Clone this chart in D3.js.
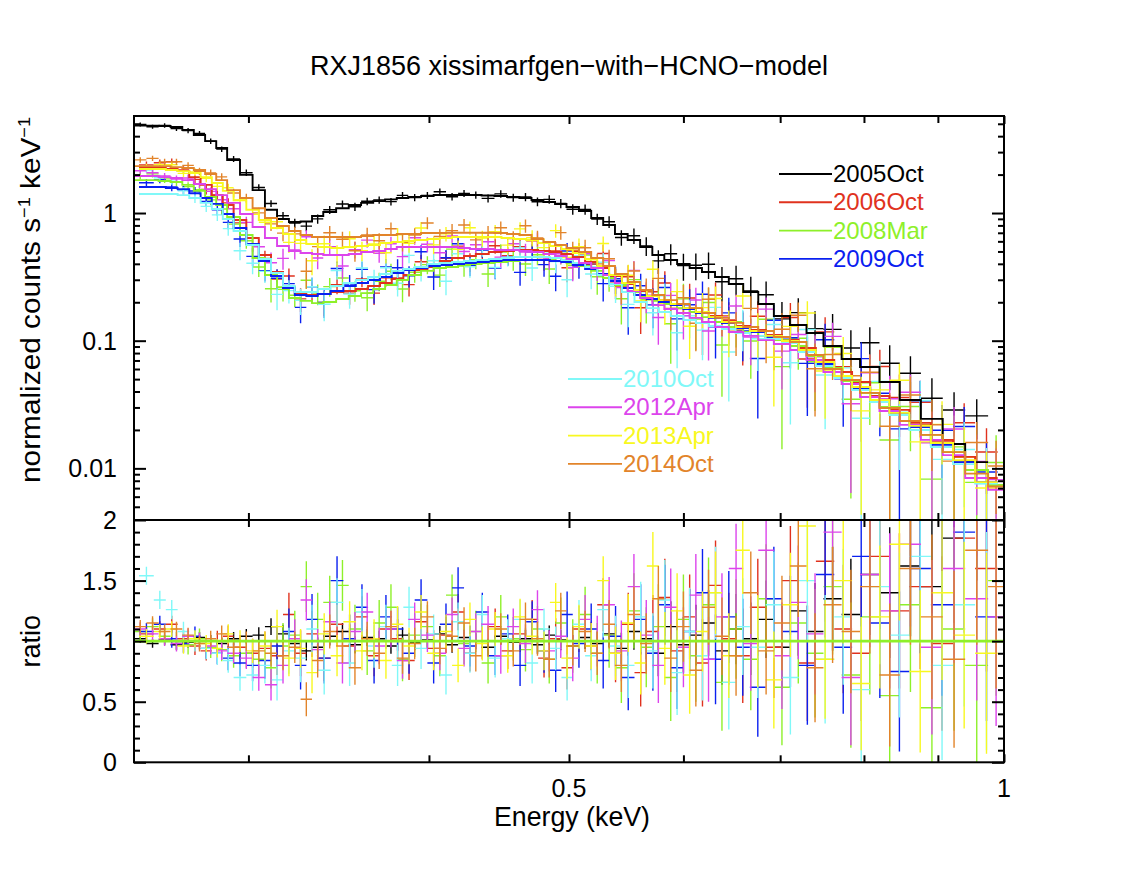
<!DOCTYPE html>
<html><head><meta charset="utf-8">
<script src="https://cdn.jsdelivr.net/npm/d3@7"></script>
<style>
body{margin:0;background:#fff}
text{font-family:"Liberation Sans",Arial,Helvetica,sans-serif;fill:#000}
</style>
</head><body>
<svg id="chart" width="1138" height="879"></svg>
<script>
// ---------------- DATA ----------------
const chartTitle = "RXJ1856 xissimarfgen\u2212with\u2212HCNO\u2212model";
const xLabel = "Energy (keV)";
const seriesNames = ["2005Oct","2006Oct","2008Mar","2009Oct","2010Oct","2012Apr","2013Apr","2014Oct"];
const seriesColors = ["#000000","#e0321e","#8ef02a","#0a20f0","#80f8f8","#dc44ec","#f8f820","#e2842a"];
const xMajorTicks = [0.5, 1];
const xMinorTicks = [0.3, 0.4, 0.6, 0.7, 0.8, 0.9];
const xTickLabels = ["0.5", "1"];
const yTopMajorTicks = [0.01, 0.1, 1];
const yTopTickLabels = ["0.01", "0.1", "1"];
const yTopMinorTicks = [0.005,0.006,0.007,0.008,0.009,0.02,0.03,0.04,0.05,0.06,0.07,0.08,0.09,0.2,0.3,0.4,0.5,0.6,0.7,0.8,0.9,2,3,4,5];
const yBotMajorTicks = [0, 0.5, 1, 1.5, 2];
const yBotTickLabels = ["0", "0.5", "1", "1.5", "2"];
const yBotMinorTicks = [0.1,0.2,0.3,0.4,0.6,0.7,0.8,0.9,1.1,1.2,1.3,1.4,1.6,1.7,1.8,1.9];

// energy bin edges (keV)
const edgesA = [0.250,0.255,0.260,0.265,0.270,0.275,0.280,0.285,0.290,0.296,0.302,0.308,0.314,0.320,0.326,0.332,0.338,0.345,0.352,0.359,0.366,0.373,0.380,0.387,0.395,0.403,0.411,0.419,0.427,0.435,0.444,0.453,0.462,0.471,0.480,0.489,0.498,0.508,0.518,0.528,0.538,0.549,0.560,0.571,0.582,0.594,0.606,0.618,0.631,0.645,0.660,0.676,0.693,0.711,0.730,0.750,0.772,0.795,0.820,0.847,0.876,0.907,0.940,0.975,1.000];
const edgesB = [0.252,0.258,0.263,0.268,0.273,0.278,0.283,0.288,0.293,0.299,0.305,0.311,0.317,0.323,0.329,0.335,0.342,0.349,0.356,0.363,0.370,0.377,0.384,0.391,0.399,0.407,0.415,0.423,0.431,0.440,0.449,0.458,0.467,0.476,0.485,0.494,0.503,0.513,0.523,0.533,0.544,0.555,0.566,0.577,0.588,0.600,0.612,0.625,0.638,0.652,0.667,0.684,0.702,0.721,0.741,0.763,0.785,0.808,0.833,0.860,0.890,0.922,0.955,0.990];

// model (normalized counts s^-1 keV^-1) per bin
const model2005Oct = [4.84,4.84,4.80,4.72,4.47,4.08,3.66,3.23,2.60,1.99,1.51,1.06,0.898,0.850,0.858,0.947,1.02,1.09,1.155,1.20,1.24,1.28,1.31,1.335,1.36,1.384,1.384,1.384,1.384,1.371,1.359,1.335,1.311,1.264,1.219,1.176,1.114,1.037,0.914,0.805,0.685,0.615,0.542,0.469,0.4285,0.399,0.371,0.345,0.315,0.278,0.2405,0.194,0.156,0.1327,0.115,0.0909,0.0719,0.0622,0.0475,0.0343,0.0244,0.0155,0.0112];
const model2006Oct = [2.25,2.25,2.21,2.13,1.91,1.66,1.38,1.155,0.882,0.637,0.469,0.345,0.263,0.236,0.228,0.232,0.2405,0.245,0.254,0.268,0.283,0.304,0.327,0.358,0.399,0.421,0.444,0.461,0.478,0.495,0.504,0.513,0.513,0.504,0.495,0.478,0.452,0.413,0.371,0.321,0.278,0.245,0.224,0.208,0.194,0.180,0.168,0.156,0.1426,0.1303,0.1213,0.1108,0.1013,0.0877,0.0706,0.0569,0.0475,0.0369,0.0287,0.0227,0.0167,0.0123,0.0084];
const model2008Mar = [1.81,1.81,1.78,1.75,1.66,1.49,1.335,1.155,0.93,0.673,0.444,0.327,0.263,0.216,0.205,0.197,0.201,0.212,0.224,0.236,0.254,0.273,0.299,0.327,0.352,0.371,0.378,0.392,0.399,0.406,0.413,0.421,0.4285,0.4285,0.4285,0.421,0.406,0.3845,0.352,0.31,0.273,0.2405,0.22,0.205,0.194,0.180,0.168,0.153,0.14,0.128,0.117,0.109,0.101,0.0909,0.0759,0.0611,0.0483,0.039,0.0303,0.0235,0.0183,0.0134,0.0097,0.0074];
const model2009Oct = [1.60,1.60,1.57,1.54,1.43,1.31,1.18,0.982,0.763,0.572,0.421,0.321,0.259,0.228,0.224,0.232,0.245,0.268,0.283,0.299,0.315,0.339,0.358,0.371,0.3845,0.392,0.399,0.406,0.413,0.421,0.4285,0.4285,0.4285,0.4285,0.421,0.413,0.392,0.364,0.333,0.2935,0.259,0.228,0.212,0.201,0.190,0.177,0.165,0.151,0.1376,0.1257,0.117,0.107,0.0977,0.0831,0.0657,0.0529,0.0426,0.0337,0.0272,0.0211,0.0153,0.0112,0.0078];
const model2010Oct = [1.41,1.41,1.41,1.38,1.31,1.20,1.075,0.898,0.723,0.562,0.436,0.339,0.268,0.2405,0.2405,0.254,0.268,0.283,0.299,0.315,0.333,0.352,0.364,0.378,0.399,0.406,0.413,0.421,0.4285,0.436,0.444,0.452,0.452,0.452,0.444,0.4285,0.406,0.378,0.327,0.278,0.2405,0.201,0.180,0.168,0.156,0.1453,0.1376,0.1303,0.1235,0.115,0.109,0.1031,0.096,0.0816,0.0634,0.051,0.0411,0.0331,0.0262,0.020,0.0147,0.0108,0.0076];
const model2012Apr = [1.95,1.95,1.91,1.88,1.81,1.69,1.54,1.38,1.20,0.982,0.777,0.637,0.552,0.504,0.486,0.478,0.469,0.469,0.478,0.495,0.504,0.522,0.542,0.542,0.542,0.542,0.542,0.532,0.522,0.522,0.513,0.513,0.504,0.495,0.478,0.461,0.436,0.406,0.371,0.327,0.283,0.245,0.216,0.190,0.177,0.165,0.151,0.14,0.128,0.117,0.109,0.101,0.0942,0.0846,0.0706,0.0569,0.0458,0.0362,0.0281,0.0219,0.0167,0.0127,0.0084,0.0068];
const model2013Apr = [2.21,2.21,2.17,2.13,2.06,1.91,1.72,1.49,1.26,1.06,0.882,0.763,0.685,0.615,0.572,0.542,0.532,0.542,0.552,0.562,0.582,0.593,0.604,0.615,0.626,0.637,0.649,0.649,0.649,0.649,0.637,0.626,0.615,0.582,0.552,0.522,0.486,0.436,0.3845,0.327,0.283,0.2495,0.224,0.208,0.194,0.180,0.168,0.153,0.14,0.128,0.119,0.109,0.0995,0.0846,0.0681,0.0529,0.0434,0.0343,0.0272,0.0215,0.0158,0.0116,0.0078];
const model2014Oct = [2.33,2.33,2.33,2.29,2.25,2.17,2.02,1.81,1.51,1.31,1.09,0.914,0.791,0.723,0.673,0.649,0.649,0.649,0.649,0.661,0.673,0.673,0.685,0.685,0.697,0.697,0.70,0.70,0.70,0.70,0.697,0.685,0.673,0.626,0.593,0.562,0.532,0.495,0.444,0.3845,0.333,0.288,0.2495,0.228,0.208,0.194,0.180,0.165,0.151,0.138,0.128,0.119,0.107,0.0977,0.0773,0.060,0.0492,0.039,0.0297,0.0235,0.0183,0.0134,0.0091,0.0072];

// data / model ratio per bin
const ratio2005Oct = [1.02,0.98,1.01,0.97,0.99,1.03,1.00,0.98,1.02,1.04,1.05,1.12,1.06,0.98,0.92,0.95,1.04,1.08,0.97,1.03,1.02,0.96,1.05,0.99,1.01,1.06,0.97,1.03,1.00,0.95,1.04,0.99,1.02,0.97,1.05,1.01,0.96,1.03,0.98,1.06,0.94,1.08,1.02,0.90,1.12,0.97,1.05,1.15,0.92,1.10,1.02,1.18,0.95,1.25,1.08,1.35,1.22,1.55,1.40,1.62,1.45,1.85,2.3];
const ratio2006Oct = [1.06,1.10,1.14,1.02,0.96,0.92,1.00,1.04,0.95,0.90,0.94,0.88,1.22,0.90,1.06,0.86,1.14,0.96,1.20,0.88,1.10,1.02,0.84,1.16,0.94,1.05,1.24,0.90,1.00,1.12,0.92,1.06,1.18,0.86,1.02,0.78,1.10,0.96,1.30,0.90,1.14,0.74,1.08,1.36,0.92,1.20,0.82,1.46,1.02,0.88,1.28,0.95,1.50,0.82,1.66,1.10,0.90,1.70,1.25,1.45,0.98,1.85,1.60];
const ratio2008Mar = [1.08,1.12,1.04,1.00,0.97,1.02,0.95,0.93,0.88,0.90,0.85,0.78,0.96,1.05,1.45,1.18,1.32,1.46,1.10,0.92,1.15,1.28,0.85,1.05,1.12,0.88,1.38,0.98,1.08,0.82,1.20,1.02,0.93,1.10,0.85,1.15,0.96,1.22,0.90,1.05,0.78,1.25,0.95,1.12,0.70,1.18,0.88,1.30,0.66,1.10,0.85,1.35,0.62,1.15,0.90,1.45,0.72,1.20,0.55,1.30,0.45,1.10,0.80,1.50];
const ratio2009Oct = [1.08,1.14,1.02,0.98,1.04,0.94,0.90,0.86,0.82,0.80,0.84,0.96,1.08,0.80,1.18,0.86,1.50,1.02,1.28,0.84,1.20,1.10,0.90,1.34,0.82,1.14,1.44,0.96,1.24,0.88,1.06,0.80,1.16,0.92,0.76,1.22,0.98,1.10,0.84,1.04,0.70,1.18,0.90,1.30,0.78,1.08,1.40,0.85,1.20,0.95,0.62,1.35,1.08,0.80,1.55,0.95,1.70,1.15,0.75,1.60,1.30,1.90,1.20];
const ratio2010Oct = [1.54,1.34,1.26,1.08,1.00,0.94,0.90,0.84,0.70,0.72,0.80,0.68,0.92,0.86,1.10,0.76,1.32,0.82,1.24,0.96,1.12,0.80,1.28,0.94,1.06,0.72,1.16,0.90,1.22,0.86,1.02,1.18,0.82,1.10,0.94,0.70,1.14,0.88,1.26,0.96,0.80,1.20,0.92,1.34,0.74,1.08,0.88,1.40,0.66,1.12,0.95,1.30,0.70,1.50,0.85,1.20,0.60,1.45,1.05,1.70,0.80,1.30,1.00];
const ratio2012Apr = [1.10,1.06,1.02,0.98,1.04,1.00,0.96,0.92,0.90,0.86,0.70,0.64,0.80,1.02,1.34,0.93,1.16,0.82,1.08,1.24,0.96,1.10,0.84,1.18,1.05,0.90,1.22,0.94,1.08,1.14,0.88,1.12,0.98,1.26,0.92,1.04,0.86,1.18,1.00,1.30,0.92,1.45,1.05,0.80,1.28,0.95,1.38,0.85,1.20,1.60,0.98,1.75,0.88,1.32,1.06,1.90,0.70,1.55,1.25,1.80,0.95,1.60,1.35,1.20];
const ratio2013Apr = [1.04,1.08,1.10,0.96,1.02,0.98,0.94,1.06,1.00,0.92,0.96,1.12,0.86,0.94,0.74,1.06,0.88,1.16,0.92,1.02,0.84,1.14,0.96,1.24,0.90,1.08,0.80,1.18,0.98,1.10,0.88,1.20,1.04,0.92,1.32,0.86,1.12,0.96,1.50,0.90,1.15,0.82,1.62,0.94,1.25,0.72,1.08,1.40,0.88,1.75,1.00,0.68,1.30,1.95,0.85,1.50,0.65,1.20,1.80,0.75,1.40,1.05,0.90];
const ratio2014Oct = [1.12,1.15,1.08,1.10,1.05,0.98,1.02,1.06,0.95,1.00,0.92,0.90,0.88,0.95,0.52,0.84,1.08,0.96,0.78,1.02,0.90,1.12,0.86,0.98,1.20,0.94,1.04,1.15,0.88,1.00,1.10,0.92,1.18,1.02,0.85,1.25,0.96,1.08,0.90,1.14,0.80,1.22,0.98,1.35,0.86,1.12,0.76,1.28,1.04,0.88,1.40,0.92,1.15,1.62,0.78,1.30,1.08,1.45,0.72,1.60,1.20,0.85,1.75,1.45];

// 1-sigma error on the ratio per bin
const err2005Oct = [0.035,0.035,0.04,0.04,0.045,0.045,0.05,0.05,0.055,0.06,0.065,0.07,0.075,0.08,0.08,0.08,0.075,0.07,0.07,0.07,0.065,0.065,0.065,0.065,0.065,0.065,0.065,0.065,0.065,0.07,0.07,0.07,0.075,0.075,0.08,0.085,0.09,0.095,0.1,0.11,0.13,0.15,0.17,0.19,0.21,0.23,0.25,0.27,0.28,0.29,0.3,0.32,0.34,0.37,0.4,0.43,0.46,0.5,0.54,0.58,0.63,0.7,0.8];
const err2006Oct = [0.065,0.065,0.07,0.07,0.075,0.08,0.085,0.09,0.1,0.12,0.14,0.16,0.18,0.19,0.19,0.19,0.18,0.18,0.17,0.17,0.16,0.16,0.16,0.15,0.15,0.15,0.15,0.15,0.15,0.15,0.15,0.15,0.16,0.16,0.17,0.18,0.19,0.2,0.22,0.24,0.26,0.28,0.3,0.32,0.34,0.35,0.36,0.37,0.38,0.39,0.4,0.42,0.45,0.48,0.5,0.53,0.56,0.6,0.64,0.68,0.72,0.78,0.85];
const err2008Mar = [0.07,0.07,0.075,0.075,0.08,0.085,0.09,0.095,0.1,0.12,0.14,0.17,0.19,0.2,0.21,0.22,0.22,0.21,0.2,0.2,0.19,0.19,0.18,0.18,0.18,0.17,0.17,0.17,0.17,0.17,0.18,0.18,0.18,0.19,0.2,0.21,0.22,0.23,0.25,0.27,0.29,0.31,0.33,0.35,0.36,0.37,0.38,0.39,0.4,0.41,0.42,0.45,0.48,0.5,0.53,0.56,0.6,0.64,0.68,0.72,0.78,0.84,0.9,0.95];
const err2009Oct = [0.07,0.07,0.075,0.075,0.08,0.085,0.09,0.1,0.11,0.13,0.15,0.17,0.19,0.2,0.21,0.21,0.2,0.2,0.19,0.19,0.18,0.18,0.17,0.17,0.17,0.17,0.17,0.17,0.16,0.16,0.16,0.17,0.17,0.18,0.18,0.19,0.2,0.21,0.23,0.25,0.27,0.29,0.31,0.33,0.34,0.35,0.36,0.37,0.38,0.4,0.41,0.43,0.46,0.49,0.52,0.55,0.58,0.62,0.66,0.7,0.75,0.8,0.86];
const err2010Oct = [0.075,0.075,0.08,0.08,0.085,0.09,0.095,0.1,0.11,0.13,0.15,0.17,0.19,0.2,0.2,0.2,0.2,0.19,0.19,0.18,0.18,0.17,0.17,0.17,0.16,0.16,0.16,0.16,0.16,0.16,0.16,0.16,0.17,0.17,0.18,0.19,0.2,0.21,0.23,0.25,0.27,0.29,0.31,0.33,0.35,0.36,0.37,0.38,0.39,0.4,0.42,0.44,0.47,0.5,0.53,0.56,0.6,0.64,0.68,0.72,0.78,0.84,0.9];
const err2012Apr = [0.06,0.06,0.06,0.065,0.065,0.07,0.07,0.075,0.08,0.09,0.11,0.13,0.15,0.16,0.17,0.17,0.17,0.17,0.16,0.16,0.15,0.15,0.15,0.14,0.14,0.14,0.14,0.15,0.15,0.15,0.15,0.15,0.16,0.16,0.17,0.18,0.19,0.2,0.21,0.23,0.25,0.27,0.29,0.31,0.32,0.33,0.34,0.35,0.36,0.37,0.39,0.41,0.44,0.47,0.5,0.53,0.56,0.6,0.64,0.68,0.72,0.78,0.84,0.9];
const err2013Apr = [0.06,0.06,0.065,0.065,0.07,0.07,0.075,0.08,0.09,0.1,0.12,0.14,0.15,0.16,0.17,0.17,0.17,0.17,0.16,0.16,0.15,0.15,0.15,0.14,0.14,0.14,0.14,0.14,0.14,0.14,0.14,0.15,0.15,0.16,0.16,0.17,0.18,0.19,0.2,0.22,0.24,0.26,0.28,0.3,0.31,0.32,0.33,0.34,0.35,0.36,0.38,0.4,0.43,0.46,0.49,0.52,0.55,0.59,0.63,0.67,0.72,0.77,0.83];
const err2014Oct = [0.055,0.055,0.06,0.06,0.06,0.065,0.065,0.07,0.075,0.08,0.09,0.11,0.12,0.13,0.14,0.14,0.14,0.14,0.14,0.14,0.13,0.13,0.13,0.13,0.13,0.13,0.13,0.13,0.13,0.13,0.13,0.13,0.14,0.14,0.15,0.15,0.16,0.17,0.18,0.2,0.22,0.23,0.25,0.27,0.28,0.29,0.3,0.31,0.32,0.33,0.34,0.36,0.39,0.42,0.45,0.48,0.51,0.55,0.59,0.63,0.68,0.73,0.78,0.84];

const seriesEdges  = [edgesA, edgesB, edgesA, edgesB, edgesB, edgesA, edgesB, edgesA];
const seriesModels = [model2005Oct, model2006Oct, model2008Mar, model2009Oct, model2010Oct, model2012Apr, model2013Apr, model2014Oct];
const seriesRatios = [ratio2005Oct, ratio2006Oct, ratio2008Mar, ratio2009Oct, ratio2010Oct, ratio2012Apr, ratio2013Apr, ratio2014Oct];
const seriesErrors = [err2005Oct, err2006Oct, err2008Mar, err2009Oct, err2010Oct, err2012Apr, err2013Apr, err2014Oct];

// ---------------- LAYOUT ----------------
const L = 134, R = 1004, T = 116, MID = 520, B = 762.3;
const svg = d3.select("#chart");
const x = d3.scaleLog().domain([0.25, 1]).range([L, R]);
const yTop = d3.scaleLog().domain([0.00394, 5.754]).range([MID, T]);
const yBot = d3.scaleLinear().domain([0, 2]).range([B, MID]);

const defs = svg.append("defs");
defs.append("clipPath").attr("id","clipTop").append("rect").attr("x",L).attr("y",T).attr("width",R-L).attr("height",MID-T);
defs.append("clipPath").attr("id","clipBot").append("rect").attr("x",L).attr("y",MID).attr("width",R-L).attr("height",B-MID);

const datasets = seriesNames.map((name, k) => {
  const edges = seriesEdges[k];
  const bins = seriesModels[k].map((m, i) => {
    const r = seriesRatios[k][i], e = seriesErrors[k][i];
    return {lo: edges[i], hi: edges[i+1], mid: (edges[i]+edges[i+1])/2, m, r, e, d: r*m, de: e*m};
  });
  return {name, color: seriesColors[k], bins};
});

const gTop = svg.append("g").attr("clip-path","url(#clipTop)");
const gBot = svg.append("g").attr("clip-path","url(#clipBot)");
const yMinTop = yTop.domain()[0];

// data crosses, top panel
datasets.forEach(ds => {
  let p = "";
  ds.bins.forEach(b => {
    const yc = yTop(b.d);
    const lo = b.d - b.de > yMinTop ? yTop(b.d - b.de) : MID + 5;
    const hi = yTop(b.d + b.de);
    p += `M${x(b.lo)},${yc}H${x(b.hi)}M${x(b.mid)},${lo}V${hi}`;
  });
  gTop.append("path").attr("d", p).attr("fill","none").attr("stroke", ds.color).attr("stroke-width", 1.4);
});
// model step lines, top panel
const stepLine = d3.line().x(d => x(d[0])).y(d => yTop(d[1]));
datasets.forEach(ds => {
  const pts = [];
  ds.bins.forEach(b => { pts.push([b.lo, b.m]); pts.push([b.hi, b.m]); });
  gTop.append("path").attr("d", stepLine(pts)).attr("fill","none").attr("stroke", ds.color).attr("stroke-width", 1.9);
});

// ratio crosses, bottom panel
datasets.forEach(ds => {
  let p = "";
  ds.bins.forEach(b => {
    p += `M${x(b.lo)},${yBot(b.r)}H${x(b.hi)}M${x(b.mid)},${yBot(Math.max(b.r - b.e, -0.1))}V${yBot(Math.min(b.r + b.e, 2.1))}`;
  });
  gBot.append("path").attr("d", p).attr("fill","none").attr("stroke", ds.color).attr("stroke-width", 1.4);
});
gBot.append("line").attr("x1", x(0.25)).attr("x2", x(1)).attr("y1", yBot(1)).attr("y2", yBot(1))
  .attr("stroke", seriesColors[2]).attr("stroke-width", 2.6);

// ---------------- AXES ----------------
function styleAxis(g){ g.select(".domain").remove(); g.selectAll("line").attr("stroke","#000").attr("stroke-width",2); g.selectAll("text").remove(); }
function addAxis(axisFn, scale, vals, size, tx, ty){
  svg.append("g").attr("transform",`translate(${tx},${ty})`)
    .call(axisFn(scale).tickValues(vals).tickSize(-size).tickFormat(""))
    .call(styleAxis);
}
[[d3.axisTop,T],[d3.axisBottom,MID],[d3.axisTop,MID],[d3.axisBottom,B]].forEach(([fn,ty]) => {
  addAxis(fn, x, xMajorTicks, 8, 0, ty);
  addAxis(fn, x, xMinorTicks, 7, 0, ty);
});
addAxis(d3.axisLeft, yTop, yTopMajorTicks, 12, L, 0);
addAxis(d3.axisLeft, yTop, yTopMinorTicks, 6, L, 0);
addAxis(d3.axisRight, yTop, yTopMajorTicks, 12, R, 0);
addAxis(d3.axisRight, yTop, yTopMinorTicks, 6, R, 0);
addAxis(d3.axisLeft, yBot, yBotMajorTicks, 12, L, 0);
addAxis(d3.axisLeft, yBot, yBotMinorTicks, 6, L, 0);
addAxis(d3.axisRight, yBot, yBotMajorTicks, 12, R, 0);
addAxis(d3.axisRight, yBot, yBotMinorTicks, 6, R, 0);

svg.append("rect").attr("x",L).attr("y",T).attr("width",R-L).attr("height",B-T).attr("fill","none").attr("stroke","#000").attr("stroke-width",2);
svg.append("line").attr("x1",L).attr("x2",R).attr("y1",MID).attr("y2",MID).attr("stroke","#000").attr("stroke-width",2);

// tick labels
xMajorTicks.forEach((v,i) => svg.append("text").attr("x", x(v)).attr("y", 797).attr("text-anchor","middle").style("font-size","25px").text(xTickLabels[i]));
yTopMajorTicks.forEach((v,i) => svg.append("text").attr("x", 117).attr("y", yTop(v)).attr("dy","0.36em").attr("text-anchor","end").style("font-size","25px").text(yTopTickLabels[i]));
yBotMajorTicks.forEach((v,i) => svg.append("text").attr("x", 117).attr("y", yBot(v)).attr("dy","0.36em").attr("text-anchor","end").style("font-size","25px").text(yBotTickLabels[i]));

// titles
svg.append("text").attr("x", 569).attr("y", 75).attr("text-anchor","middle").style("font-size","27px")
  .attr("textLength", 518).attr("lengthAdjust","spacingAndGlyphs").text(chartTitle);
svg.append("text").attr("x", 572).attr("y", 826).attr("text-anchor","middle").style("font-size","28px")
  .attr("textLength", 156).attr("lengthAdjust","spacingAndGlyphs").text(xLabel);
const yl = svg.append("text").attr("transform","translate(40,300) rotate(-90)").attr("text-anchor","middle").style("font-size","28px")
  .attr("textLength", 366).attr("lengthAdjust","spacingAndGlyphs");
yl.append("tspan").text("normalized counts s");
yl.append("tspan").attr("dy",-10).style("font-size","17px").text("\u22121");
yl.append("tspan").attr("dy",10).text(" keV");
yl.append("tspan").attr("dy",-10).style("font-size","17px").text("\u22121");
svg.append("text").attr("transform",`translate(40,${yBot(1)}) rotate(-90)`).attr("text-anchor","middle").style("font-size","27px").text("ratio");

// legends
const legendRows = [
  {x1:779, x2:832, y0:174, idx:[0,1,2,3]},
  {x1:568, x2:622, y0:379, idx:[4,5,6,7]}
];
legendRows.forEach(lg => {
  lg.idx.forEach((k, j) => {
    const yy = lg.y0 + j*28.3;
    svg.append("line").attr("x1",lg.x1).attr("x2",lg.x2).attr("y1",yy).attr("y2",yy).attr("stroke",seriesColors[k]).attr("stroke-width",1.9);
    svg.append("text").attr("x",lg.x2+1).attr("y",yy+8).style("font-size","24px").style("fill",seriesColors[k]).text(seriesNames[k]);
  });
});
</script>
</body></html>
